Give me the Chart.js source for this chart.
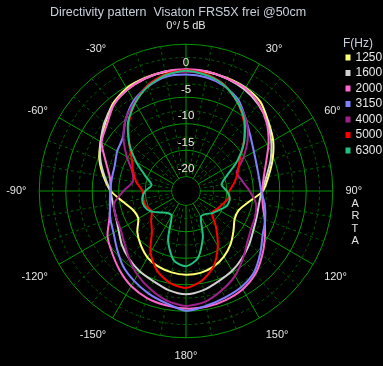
<!DOCTYPE html>
<html><head><meta charset="utf-8">
<script src="https://cdn.jsdelivr.net/npm/chart.js@4.4.1/dist/chart.umd.min.js"></script>
<style>html,body{margin:0;padding:0;background:#000;overflow:hidden}canvas{display:block}</style>
</head><body>
<canvas id="c" width="383" height="366"></canvas>
<script>
// angles (deg, clockwise from front) every 10 degrees
const angles = [0,10,20,30,40,50,60,70,80,90,100,110,120,130,140,150,160,170,180,190,200,210,220,230,240,250,260,270,280,290,300,310,320,330,340,350];
const angleNames = {0:'0°/ 5 dB',30:'30°',60:'60°',90:'90°',120:'120°',150:'150°',180:'180°',210:'-150°',240:'-120°',270:'-90°',300:'-60°',330:'-30°'};
const sideText = ['A','R','T','A'];
const freqs = ['1250','1600','2000','3150','4000','5000','6300'];
const ringValues = [-20,-17.5,-15,-12.5,-10,-7.5,-5,-2.5,0,2.5,5];
const ringLabels = ['-20','-15','-10','-5','0'];
const ringLabelAt = [-20,-15,-10,-5,0];

const f1250 = [0.1,0.1,0.0,-0.2,-0.8,-2.4,-3.7,-5.3,-6.9,-8.2,-10.7,-12.1,-12.1,-11.0,-9.6,-8.4,-7.5,-7.0,-6.9,-7.1,-7.5,-8.2,-9.4,-10.7,-12.3,-12.1,-10.7,-8.5,-6.9,-5.3,-4.1,-2.8,-1.2,-0.3,0.0,0.1];
const f1600 = [0.2,0.2,-0.1,-0.6,-1.4,-2.6,-4.1,-5.7,-7.3,-8.4,-8.7,-8.5,-8.0,-7.1,-6.2,-5.3,-4.6,-3.7,-3.2,-3.7,-4.6,-5.2,-6.0,-6.9,-8.0,-8.6,-8.7,-8.4,-7.1,-5.5,-4.1,-2.6,-1.4,-0.6,-0.1,0.2];
const f2000 = [0.3,0.2,-0.1,-0.3,-1.3,-2.8,-4.7,-6.6,-7.8,-8.3,-8.0,-6.9,-5.5,-3.9,-2.3,-1.3,-0.8,-0.5,-0.5,-0.8,-1.2,-2.0,-3.2,-4.5,-5.6,-7.3,-8.2,-8.5,-8.1,-6.6,-4.3,-3.2,-1.5,-0.6,-0.1,0.2];
const f3150 = [-0.7,-0.9,-1.6,-2.9,-5.1,-6.8,-7.9,-8.5,-8.7,-8.5,-7.6,-6.8,-6.0,-4.4,-2.7,-1.8,-1.3,-0.7,-0.1,-1.2,-2.1,-3.1,-4.2,-5.7,-6.9,-7.5,-8.1,-8.4,-8.5,-8.4,-7.7,-7.1,-5.0,-3.0,-1.7,-0.8];
const f4000 = [-0.2,-0.5,-1.5,-3.3,-5.1,-7.5,-10.2,-12.5,-11.9,-10.7,-9.3,-8.8,-8.5,-7.6,-6.0,-4.2,-2.8,-1.5,-1.0,-1.7,-3.0,-4.4,-6.0,-7.5,-8.4,-8.6,-8.9,-10.9,-12.5,-11.9,-9.8,-7.3,-5.0,-3.3,-1.5,-0.5];
const f5000 = [0.1,-0.3,-1.4,-3.3,-5.7,-8.5,-11.0,-12.3,-13.4,-14.5,-14.6,-15.4,-15.9,-16.3,-13.9,-10.7,-7.5,-5.5,-4.4,-5.1,-6.7,-9.3,-12.7,-14.1,-15.2,-14.6,-14.5,-14.5,-13.2,-12.1,-10.9,-8.7,-5.9,-3.5,-1.5,-0.3];
const f6300 = [0.0,-0.5,-1.5,-3.3,-5.5,-8.4,-11.6,-14.6,-15.9,-15.0,-14.3,-14.5,-15.5,-16.2,-17.0,-17.1,-13.4,-9.8,-8.5,-9.4,-12.8,-17.3,-17.3,-16.4,-15.0,-14.3,-14.3,-15.0,-16.1,-14.6,-11.9,-8.7,-5.7,-3.5,-1.7,-0.5];

const series = [f1250,f1600,f2000,f3150,f4000,f5000,f6300];
const colors = ['#ffff70','#d0d0d0','#ff66cc','#8080ff','#a0208c','#ff0000','#20c080'];

const FONT = "'Liberation Sans', Arial, sans-serif";
const MAJOR = 'rgb(0,150,0)';
const MINOR = 'rgb(0,95,0)';
const LABEL_SHIFT = 1.45; // dB: ring labels sit just outside their ring

const labelTicks = ringLabelAt.map(v => v + LABEL_SHIFT);
const allTicks = ringValues.concat(labelTicks).sort((a,b)=>a-b);
const isRing = v => ringValues.some(r => Math.abs(r - v) < 1e-6);
const isMajor = v => isRing(v) && Math.abs(Math.round(v/5)*5 - v) < 1e-6;
const ringText = v => { const i = labelTicks.findIndex(t => Math.abs(t - v) < 1e-6); return i >= 0 ? ringLabels[i] : ''; };
// upper oblique angle labels sit closer to their spoke, as in the original
const labelLineHeight = a => (a === 30 || a === 330) ? 0.71 : (a === 60 || a === 300) ? 0.14 : 1.136;

const holePlugin = {
  id: 'hole',
  beforeDatasetsDraw(chart) {
    const s = chart.scales.r, ctx = chart.ctx;
    ctx.save();
    ctx.fillStyle = '#000';
    ctx.beginPath();
    ctx.arc(s.xCenter, s.yCenter, s.getDistanceFromCenterForValue(ringValues[0]) - 0.6, 0, Math.PI * 2);
    ctx.fill();
    ctx.restore();
  }
};
const legendPlace = {
  id: 'legendPlace',
  afterLayout(chart) {
    const lg = chart.legend;
    lg.left = 343; lg.top = 38; lg.right = 383; lg.bottom = 366;
  }
};

new Chart(document.getElementById('c'), {
  type: 'radar',
  data: {
    labels: angles,
    datasets: series.map((d, i) => ({
      label: freqs[i], data: d, borderColor: colors[i], backgroundColor: colors[i],
      borderWidth: 2, pointRadius: 0, pointHoverRadius: 0, fill: false, tension: 0.25,
      order: series.length - 1 - i
    }))
  },
  options: {
    responsive: false, animation: false, events: [],
    layout: { padding: { left: 0, right: 13, top: 0, bottom: 4 } },
    scales: {
      r: {
        min: -22.7, max: 5, startAngle: 0,
        afterBuildTicks: s => { s.ticks = allTicks.map(v => ({ value: v })); },
        grid: {
          circular: true,
          color: c => isRing(c.tick.value) ? (isMajor(c.tick.value) ? MAJOR : MINOR) : 'rgba(0,0,0,0)',
          lineWidth: c => isRing(c.tick.value) ? 1 : 0
        },
        border: { dash: c => (c.tick && isMajor(c.tick.value)) ? [] : [3, 3] },
        angleLines: {
          color: c => (angles[c.index] % 30 === 0) ? MAJOR : MINOR,
          borderDash: c => (angles[c.index] % 30 === 0) ? [] : [3, 3],
          lineWidth: 1
        },
        ticks: {
          display: true, showLabelBackdrop: false, color: '#f0e8e0',
          font: { family: FONT, size: 11.5 },
          callback: v => ringText(v)
        },
        pointLabels: {
          color: '#e6e6e6',
          font: c => ({ family: FONT, size: 11, lineHeight: labelLineHeight(angles[c.index]) }),
          padding: c => (angles[c.index] === 0 || angles[c.index] === 180) ? 4 : 5,
          callback: (a) => {
            if (a === 90) return ['', '', '', '', angleNames[90]].concat(sideText.map(t => '  ' + t));
            return angleNames[a] || '';
          }
        }
      }
    },
    plugins: {
      title: {
        display: true, text: 'Directivity pattern  Visaton FRS5X frei @50cm    ',
        color: '#c8d0dc', font: { family: FONT, size: 12.5, weight: 'normal' },
        padding: { top: 5, bottom: 0 }
      },
      legend: {
        position: 'chartArea', align: 'start',
        title: { display: true, text: 'F(Hz)', position: 'start', color: '#c8d0e0',
                 font: { family: FONT, size: 12, lineHeight: 1 }, padding: { top: 0, bottom: -2 } },
        labels: { color: '#e8e8e8', font: { family: FONT, size: 12 }, boxWidth: 3, boxHeight: 4, padding: 3.5,
                  sort: (a, b) => a.datasetIndex - b.datasetIndex }
      },
      tooltip: { enabled: false }
    }
  },
  plugins: [holePlugin, legendPlace]
});
</script>
</body></html>
